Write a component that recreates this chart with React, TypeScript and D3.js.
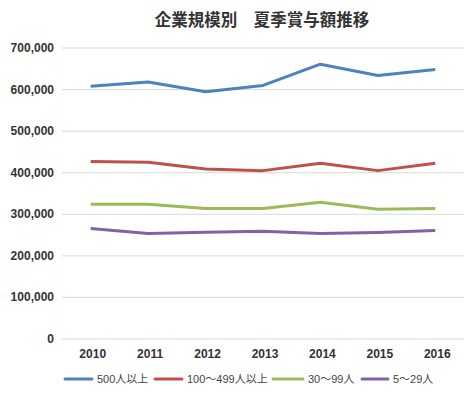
import React from "react";
import * as d3 from "d3";

const years = ["2010", "2011", "2012", "2013", "2014", "2015", "2016"];
const seriesNames = ["500人以上", "100〜499人以上", "30〜99人", "5〜29人"];
const s500 = [608000, 618000, 595000, 610000, 661000, 634000, 648000];
const s100 = [427000, 425000, 409000, 405000, 423000, 405000, 423000];
const s30 = [324000, 324000, 314000, 314000, 329000, 312000, 314000];
const s5 = [266000, 254000, 257000, 259000, 254000, 256000, 261000];
const yTicks = [0, 100000, 200000, 300000, 400000, 500000, 600000, 700000];
const colors = ["#4f81bd", "#c0504d", "#9bbb59", "#8064a2"];
const title = "企業規模別　夏季賞与額推移";

const W = 469, H = 393;
const left = 62, right = 464, top = 48, bottom = 339;
const font = "'Liberation Sans', Arial, 'Noto Sans CJK JP', sans-serif";

export default function App() {
  const x = d3.scaleBand<string>().domain(years).range([left, right]);
  const y = d3.scaleLinear().domain([0, 700000]).range([bottom, top]);
  const fmt = d3.format(",");
  const all = [s500, s100, s30, s5];
  const line = d3
    .line<number>()
    .x((_, i) => (x(years[i]) as number) + x.bandwidth() / 2)
    .y((d) => y(d));
  const legendX = [65, 155, 273, 362];
  const legendW = [27, 27, 30, 26];
  return (
    <svg width={W} height={H} style={{ position: "absolute", left: 0, top: 0, background: "#fff" }} fontFamily={font}>
      <rect width={W} height={H} fill="#fff" />
      <text x={262} y={26} textAnchor="middle" fontSize={16.5} fontWeight="bold" fill="#333">
        {title}
      </text>
      {yTicks.map((t) => (
        <g key={t}>
          <line x1={left} x2={right} y1={y(t)} y2={y(t)} stroke="#d9d9d9" strokeWidth={1} />
          <text x={54} y={y(t) + 4} textAnchor="end" fontSize={12} fontWeight="bold" fill="#333">
            {fmt(t)}
          </text>
        </g>
      ))}
      {years.map((yr) => (
        <text key={yr} x={(x(yr) as number) + x.bandwidth() / 2 + 2} y={358} textAnchor="middle" fontSize={12} fontWeight="bold" fill="#333">
          {yr}
        </text>
      ))}
      {all.map((s, i) => (
        <path key={i} d={line(s) as string} fill="none" stroke={colors[i]} strokeWidth={3} strokeLinejoin="round" />
      ))}
      {seriesNames.map((n, i) => (
        <g key={n}>
          <line x1={legendX[i]} x2={legendX[i] + legendW[i]} y1={379} y2={379} stroke={colors[i]} strokeWidth={3} strokeLinecap="round" />
          <text x={legendX[i] + legendW[i] + 5} y={383} fontSize={11} fill="#444">
            {n}
          </text>
        </g>
      ))}
    </svg>
  );
}
